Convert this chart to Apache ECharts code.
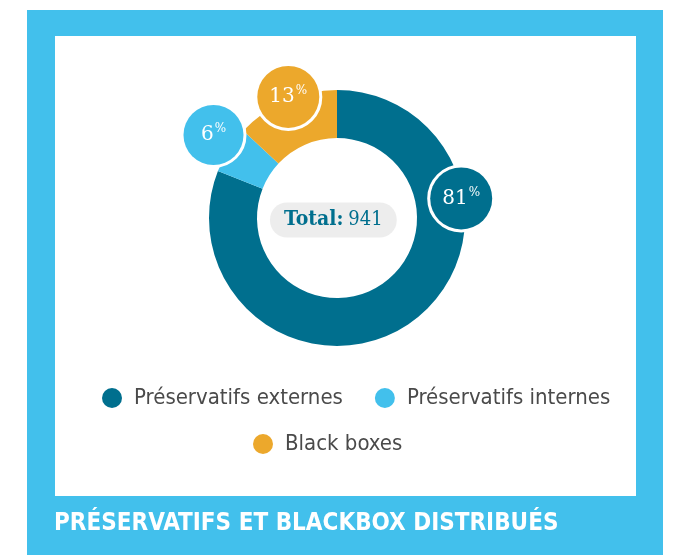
<!DOCTYPE html>
<html>
<head>
<meta charset="utf-8">
<script src="https://cdn.jsdelivr.net/npm/echarts@6/dist/echarts.min.js"></script>
<style>
  html, body { margin: 0; padding: 0; background: #fff; }
  #chart-container { width: 680px; height: 555px; }
</style>
</head>
<body>
<div id="chart-container"></div>
<script>
// data (total 941)
const categories = ['Préservatifs externes', 'Préservatifs internes', 'Black boxes'];
const counts = [762, 56, 123];
const colors = ['#006F8E', '#42C0EC', '#ECA82C'];
// where each % bubble sits, relative to the default inside label spot
const bubbleOffsets = [[64, -108], [-33, -26], [-6, -23]];
const bubbleSizes = [62, 60, 62];

const total = counts.reduce(function (a, b) { return a + b; }, 0);
const blue = '#42C0EC';

const dom = document.getElementById('chart-container');
const myChart = echarts.init(dom, null, { renderer: 'canvas', useDirtyRect: false });

const pieData = categories.map(function (name, i) {
    const s = bubbleSizes[i];
    return {
        name: name,
        value: counts[i],
        itemStyle: { color: colors[i] },
        label: {
            offset: bubbleOffsets[i],
            backgroundColor: colors[i],
            width: s,
            padding: [(s - 24) / 2, 0],
            borderRadius: s / 2 + 3,
            borderColor: '#fff',
            borderWidth: 3
        }
    };
});

const legendText = { fontFamily: 'DejaVu Sans Condensed', fontSize: 22, color: '#4A4A4A', padding: [0, 0, 0, 7] };

const option = {
    backgroundColor: '#fff',
    animation: false,
    graphic: [
        { type: 'rect', z: -10, shape: { x: 27, y: 10, width: 636, height: 545 }, style: { fill: blue } },
        { type: 'rect', z: -9, shape: { x: 55, y: 36, width: 581, height: 460 }, style: { fill: '#fff' } }
    ],
    title: [
        {
            text: 'PRÉSERVATIFS ET BLACKBOX DISTRIBUÉS',
            left: 49,
            top: 507,
            textStyle: {
                color: '#fff',
                fontFamily: 'DejaVu Sans Condensed',
                fontWeight: 'bold',
                fontSize: 24
            }
        },
        {
            text: '{b|Total:} {n|' + total + '}',
            left: 270,
            top: 203,
            padding: [7, 14],
            backgroundColor: '#EDEDED',
            borderRadius: 17,
            textStyle: {
                rich: {
                    b: { fontFamily: 'DejaVu Serif Condensed', fontWeight: 'bold', fontSize: 21, color: '#006F8E', lineHeight: 20 },
                    n: { fontFamily: 'DejaVu Serif Condensed', fontWeight: 'normal', fontSize: 20, color: '#006F8E', lineHeight: 20 }
                }
            }
        }
    ],
    legend: [
        {
            data: categories.slice(0, 2),
            left: 97,
            top: 382,
            icon: 'circle',
            itemWidth: 20,
            itemHeight: 20,
            itemGap: 32,
            textStyle: legendText
        },
        {
            data: categories.slice(2),
            left: 248,
            top: 428,
            icon: 'circle',
            itemWidth: 20,
            itemHeight: 20,
            textStyle: legendText
        }
    ],
    series: [
        {
            type: 'pie',
            center: [337, 218],
            radius: [80, 128],
            startAngle: 90,
            clockwise: true,
            avoidLabelOverlap: false,
            silent: true,
            label: {
                show: true,
                position: 'inside',
                align: 'center',
                formatter: function (p) {
                    return '{n|' + Math.round(p.percent) + '}{p|%}';
                },
                rich: {
                    n: { fontFamily: 'DejaVu Serif', fontSize: 20, color: '#fff', lineHeight: 24, verticalAlign: 'middle' },
                    p: { fontFamily: 'DejaVu Serif', fontSize: 12, color: '#fff', lineHeight: 24, verticalAlign: 'top', padding: [0, 0, 0, 1] }
                }
            },
            labelLine: { show: false },
            data: pieData
        }
    ]
};

myChart.setOption(option, true);
</script>
</body>
</html>
